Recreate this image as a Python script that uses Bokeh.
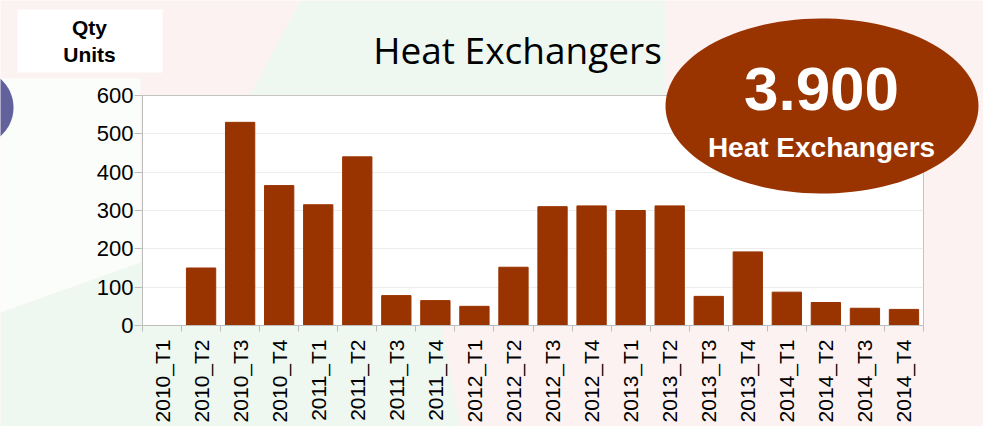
import numpy as np
from bokeh.plotting import figure
from bokeh.models import FixedTicker, Range1d, CustomJSTickFormatter
from bokeh.core.properties import value
from bokeh.embed import file_html
from bokeh.resources import INLINE

categories = ["2010_T1", "2010_T2", "2010_T3", "2010_T4",
              "2011_T1", "2011_T2", "2011_T3", "2011_T4",
              "2012_T1", "2012_T2", "2012_T3", "2012_T4",
              "2013_T1", "2013_T2", "2013_T3", "2013_T4",
              "2014_T1", "2014_T2", "2014_T3", "2014_T4"]
values = [0, 150, 530, 365, 315, 440, 78, 65, 50, 152,
          310, 312, 300, 312, 76, 192, 87, 60, 45, 42]
y_ticks = [0, 100, 200, 300, 400, 500, 600]
title_text = "Heat Exchangers"
total_text = "3.900"
badge_text = "Heat Exchangers"
unit_lines = ["Qty", "Units"]

BAR = "#993300"
W, H = 983, 426
FL, FR, FT, FB = 142, 923, 95, 325  # frame edges in page pixels
LAYER = {"position": "absolute", "top": "0px", "left": "0px"}


def no_align(f):
    if "frame_align" in f.properties():
        f.frame_align = False


def deco_fig():
    f = figure(width=W, height=H, output_backend="svg", toolbar_location=None,
               x_range=Range1d(0, W), y_range=Range1d(H, 0),
               x_axis_type=None, y_axis_type=None, min_border=0)
    f.title.visible = False
    f.xgrid.visible = False
    f.ygrid.visible = False
    f.outline_line_color = None
    f.background_fill_alpha = 0
    f.border_fill_alpha = 0
    f.styles = dict(LAYER)
    no_align(f)
    return f


def label(f, x, y, texts, font, size, color, bold=False):
    # y given as the text baseline in page pixels
    f.text(x=[x] * len(texts), y=[yy - 0.38 * size for yy in y], text=texts,
           text_align="center", text_baseline="alphabetic", text_font=value(font),
           text_font_style="bold" if bold else "normal",
           text_font_size="%dpx" % size, text_color=color)


t = np.linspace(0, 2 * np.pi, 120)

# ---------- background layer ----------
bg = deco_fig()
bg.background_fill_color = "#fdf2f2"
bg.background_fill_alpha = 1
bg.patch([0, 140, 300, 440, 460, 0], [312, 262, 300, 318, 426, 426], color="#eef8f1", line_color=None)
bg.patch([0, 140, 140, 0], [78, 78, 262, 312], color="#fbfdfb", line_color=None)
bg.patch([300, 665, 665, 250], [0, 0, 94, 94], color="#eef8f1", line_color=None)
bg.patch(list(-25 + 38 * np.cos(t)), list(107 + 38 * np.sin(t)), color="#62619b", line_color=None)
bg.quad(left=[17], right=[162], top=[9], bottom=[72], color="white", line_color=None)
label(bg, 89, [35, 62], unit_lines, "Liberation Sans", 21, "black", bold=True)
label(bg, 517, [63], [title_text], "Open Sans", 37, "black")

# ---------- chart layer ----------
n = len(categories)
p = figure(width=W, height=H, output_backend="svg", toolbar_location=None,
           x_range=Range1d(-0.5, n - 0.5), y_range=Range1d(0, 600),
           min_border_left=FL, min_border_right=W - FR,
           min_border_top=FT, min_border_bottom=H - FB)
p.title.visible = False
p.border_fill_alpha = 0
p.background_fill_color = "white"
p.outline_line_color = "#c4c4c4"
p.styles = dict(LAYER)
no_align(p)

xs = list(range(n))
p.vbar(x=xs, top=values, width=0.75, color=BAR)

p.xgrid.grid_line_color = None
p.ygrid.grid_line_color = "#ececec"
p.ygrid.ticker = FixedTicker(ticks=y_ticks)

p.yaxis.ticker = FixedTicker(ticks=y_ticks)
p.yaxis.minor_tick_line_color = None
p.yaxis.major_tick_in = 0
p.yaxis.major_tick_out = 8
p.yaxis.major_label_standoff = 1
p.yaxis.axis_line_color = "#bdbdbd"
p.yaxis.major_tick_line_color = "#bdbdbd"
p.yaxis.major_label_text_font = "Liberation Sans"
p.yaxis.major_label_text_font_size = "22px"
p.yaxis.major_label_text_color = "black"

p.xaxis.ticker = FixedTicker(ticks=xs, minor_ticks=[i - 0.5 for i in range(n + 1)])
p.xaxis.formatter = CustomJSTickFormatter(args=dict(labels=categories),
                                          code="return labels[Math.round(tick)] || '';")
p.xaxis.major_tick_line_color = None
p.xaxis.minor_tick_in = 0
p.xaxis.minor_tick_out = 6
p.xaxis.minor_tick_line_color = "#bdbdbd"
p.xaxis.axis_line_color = "#bdbdbd"
p.xaxis.major_label_orientation = np.pi / 2
p.xaxis.major_label_standoff = 8
p.xaxis.major_label_text_font = "Liberation Sans"
p.xaxis.major_label_text_font_size = "21px"
p.xaxis.major_label_text_color = "black"

# ---------- top layer: badge ----------
top = deco_fig()
top.patch(list(821.5 + 156.5 * np.cos(t)), list(105.5 + 87.5 * np.sin(t)), color=BAR, line_color=None)
label(top, 821, [112], [total_text], "Liberation Sans", 62, "white", bold=True)
label(top, 821, [158], [badge_text], "Liberation Sans", 28, "white", bold=True)

open("out.html", "w").write(file_html([bg, p, top], INLINE))
